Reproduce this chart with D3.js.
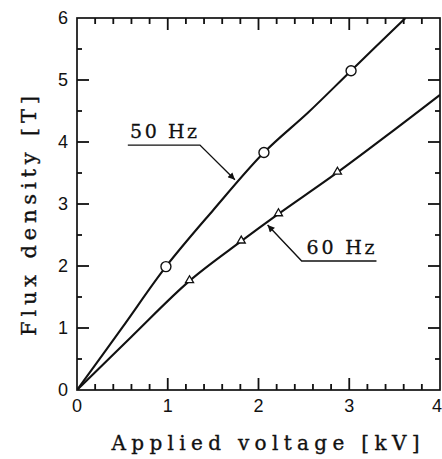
<!DOCTYPE html>
<html>
<head>
<meta charset="utf-8">
<script src="https://cdn.jsdelivr.net/npm/d3@7"></script>
<style>
  html, body { margin: 0; padding: 0; background: #fff; }
  svg { display: block; }
</style>
</head>
<body>
<svg id="chart" width="442" height="459"></svg>
<script>
// Flux density vs applied voltage, two supply frequencies
const xTicks = [0, 1, 2, 3, 4];
const yTicks = [0, 1, 2, 3, 4, 5, 6];

// Measured points
const pts50Hz = [[0.98, 1.99], [2.06, 3.83], [3.02, 5.15]];
const pts60Hz = [[1.24, 1.76], [1.81, 2.40], [2.22, 2.84], [2.87, 3.51]];

// Smooth trend curves through the measurements
const curve50Hz = [[0, 0], [0.5, 1.01], [0.98, 1.99], [1.5, 2.9], [2.06, 3.83], [2.55, 4.48], [3.02, 5.15], [3.62, 6.0]];
const curve60Hz = [[0, 0], [0.6, 0.86], [1.24, 1.76], [1.81, 2.40], [2.22, 2.84], [2.87, 3.51], [3.5, 4.2], [4.0, 4.76]];

const labels = ["50 Hz", "60 Hz"];

const svg = d3.select("#chart");
const M = { left: 77, right: 440, top: 18, bottom: 390 };

const x = d3.scaleLinear().domain([0, 4]).range([M.left, M.right]);
const y = d3.scaleLinear().domain([0, 6]).range([M.bottom, M.top]);

const ink = "#111";
const tickFont = "'Liberation Sans', Arial, sans-serif";
const serif = "'DejaVu Serif', 'Liberation Serif', serif";

// Minor tick values
const xMinor = d3.range(1, 20).map(i => i * 0.2).filter(v => Math.abs(v - Math.round(v)) > 1e-6);
const yMinor = d3.range(0, 6).map(i => i + 0.5);

// Frame
svg.append("rect")
  .attr("x", x(0)).attr("y", y(6))
  .attr("width", x(4) - x(0)).attr("height", y(0) - y(6))
  .attr("fill", "none")
  .attr("stroke", ink)
  .attr("stroke-width", 1.7);

// Inward ticks on all four sides, drawn as filled bars
const tickG = svg.append("g").attr("fill", ink);
function xTickMarks(vals, len) {
  vals.forEach(v => {
    tickG.append("rect").attr("x", x(v) - 0.9).attr("y", y(0) - len).attr("width", 1.8).attr("height", len);
    tickG.append("rect").attr("x", x(v) - 0.9).attr("y", y(6)).attr("width", 1.8).attr("height", len);
  });
}
function yTickMarks(vals, len) {
  vals.forEach(v => {
    tickG.append("rect").attr("x", x(0)).attr("y", y(v) - 0.9).attr("width", len).attr("height", 1.8);
    tickG.append("rect").attr("x", x(4) - len).attr("y", y(v) - 0.9).attr("width", len).attr("height", 1.8);
  });
}
xTickMarks(xTicks.slice(1, -1), 12);
xTickMarks(xMinor, 6);
yTickMarks(yTicks.slice(1, -1), 12);
yTickMarks(yMinor, 5);

// Tick labels
svg.append("g").selectAll("text")
  .data(xTicks)
  .join("text")
  .attr("x", d => x(d) - (d === 4 ? 3 : 0))
  .attr("y", y(0) + 22)
  .attr("text-anchor", "middle")
  .style("font-family", tickFont)
  .style("font-size", "18px")
  .attr("fill", ink)
  .text(d => d);

svg.append("g").selectAll("text")
  .data(yTicks)
  .join("text")
  .attr("x", x(0) - 9)
  .attr("y", d => y(d))
  .attr("dy", "0.36em")
  .attr("text-anchor", "end")
  .style("font-family", tickFont)
  .style("font-size", "18px")
  .attr("fill", ink)
  .text(d => d);

// Clip the curves to the plotting frame
svg.append("clipPath").attr("id", "frame")
  .append("rect")
  .attr("x", M.left).attr("y", M.top)
  .attr("width", M.right - M.left).attr("height", M.bottom - M.top);

const line = d3.line()
  .x(d => x(d[0]))
  .y(d => y(d[1]))
  .curve(d3.curveCatmullRom.alpha(0.5));

const curves = svg.append("g").attr("clip-path", "url(#frame)");
[curve50Hz, curve60Hz].forEach(c => {
  curves.append("path")
    .datum(c)
    .attr("d", line)
    .attr("fill", "none")
    .attr("stroke", ink)
    .attr("stroke-width", 2.1)
    .attr("stroke-linejoin", "round");
});

// Open circles for 50 Hz
svg.append("g").selectAll("circle")
  .data(pts50Hz)
  .join("circle")
  .attr("cx", d => x(d[0]))
  .attr("cy", d => y(d[1]))
  .attr("r", 5)
  .attr("fill", "#fff")
  .attr("stroke", ink)
  .attr("stroke-width", 1.4);

// Open triangles for 60 Hz
const tri = d3.symbol().type(d3.symbolTriangle).size(28);
svg.append("g").selectAll("path")
  .data(pts60Hz)
  .join("path")
  .attr("transform", d => `translate(${x(d[0])},${y(d[1]) - 0.5})`)
  .attr("d", tri)
  .attr("fill", "#fff")
  .attr("stroke", ink)
  .attr("stroke-width", 1.3);

// Leader annotations
const defs = svg.append("defs");
defs.append("marker")
  .attr("id", "arrow")
  .attr("viewBox", "0 0 10 10")
  .attr("refX", 10).attr("refY", 5)
  .attr("markerWidth", 9).attr("markerHeight", 7)
  .attr("markerUnits", "userSpaceOnUse")
  .attr("orient", "auto")
  .append("path")
  .attr("d", "M0,0 L10,5 L0,10 Z")
  .attr("fill", ink);

const notes = [
  { text: labels[0], tx: 0.585, ty: 4.06, u0: 0.56, u1: 1.355, uy: 3.95, ax: 1.74, ay: 3.39, len: 67 },
  { text: labels[1], tx: 2.53, ty: 2.20, u0: 2.476, u1: 3.30, uy: 2.08, ax: 2.10, ay: 2.66, len: 68 }
];
const ng = svg.append("g");
notes.forEach((n, i) => {
  ng.append("text")
    .attr("x", x(n.tx)).attr("y", y(n.ty))
    .attr("textLength", n.len)
    .attr("lengthAdjust", "spacing")
    .style("font-family", serif)
    .style("font-size", "19px")
    .attr("fill", ink)
    .attr("stroke", ink)
    .attr("stroke-width", 0.3)
    .text(n.text);
  ng.append("path")
    .attr("d", i === 0
      ? `M${x(n.u0)},${y(n.uy)} L${x(n.u1)},${y(n.uy)} L${x(n.ax)},${y(n.ay)}`
      : `M${x(n.u1)},${y(n.uy)} L${x(n.u0)},${y(n.uy)} L${x(n.ax)},${y(n.ay)}`)
    .attr("fill", "none")
    .attr("stroke", ink)
    .attr("stroke-width", 1.4)
    .attr("marker-end", "url(#arrow)");
});

// Axis titles
svg.append("text")
  .attr("x", (M.left + M.right) / 2 + 7)
  .attr("y", 450)
  .attr("text-anchor", "middle")
  .attr("textLength", 308)
  .attr("lengthAdjust", "spacing")
  .style("font-family", serif)
  .style("font-size", "20px")
  .attr("fill", ink)
  .attr("stroke", ink)
  .attr("stroke-width", 0.35)
  .text("Applied voltage  [kV]");

svg.append("text")
  .attr("transform", `translate(36,216) rotate(-90)`)
  .attr("text-anchor", "middle")
  .attr("textLength", 240)
  .attr("lengthAdjust", "spacing")
  .style("font-family", serif)
  .style("font-size", "21px")
  .attr("fill", ink)
  .attr("stroke", ink)
  .attr("stroke-width", 0.35)
  .text("Flux density  [T]");
</script>
</body>
</html>
